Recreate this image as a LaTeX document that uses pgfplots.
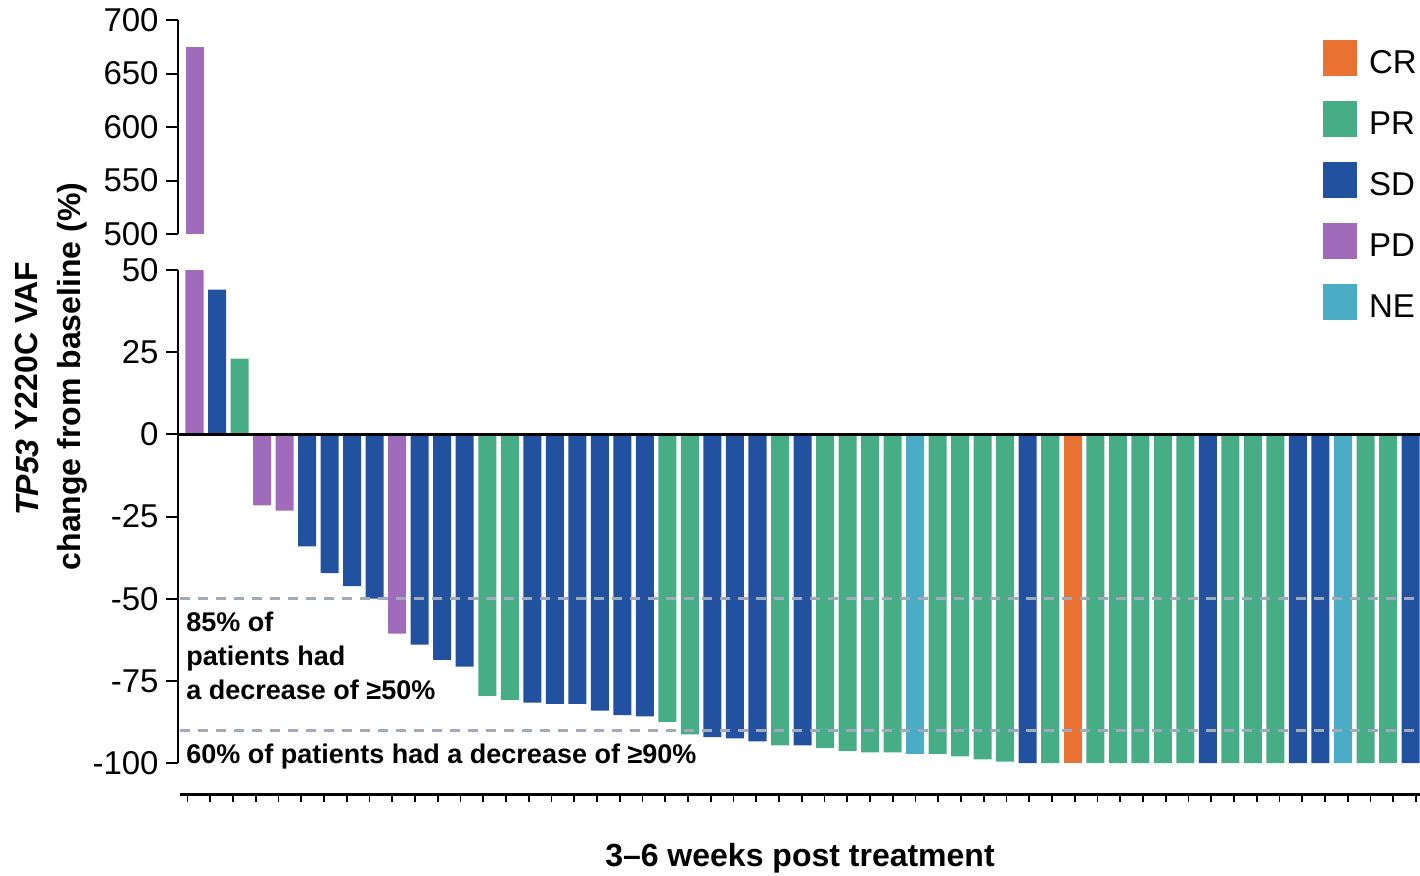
\documentclass[border=0pt]{standalone}
\usepackage{pgfplots}
\pgfplotsset{compat=1.18}
\usepackage{fontspec}
\setmainfont{Liberation Sans}
\definecolor{cCR}{HTML}{E97132}
\definecolor{cPR}{HTML}{47AD87}
\definecolor{cSD}{HTML}{2251A0}
\definecolor{cPD}{HTML}{A06BBA}
\definecolor{cNE}{HTML}{4BADC5}
\definecolor{cDash}{HTML}{A0AABA}
\pgfplotsset{
 brk/.style={scale only axis, width=621pt, xmin=-0.733, xmax=54.42,
  axis x line=none, axis y line*=left, tick align=outside,
  major tick length=6pt, tick style={line width=1pt, black},
  axis line style={line width=1.2pt}, clip mode=individual,
  yticklabel style={font=\fontsize{16.5}{19}\selectfont, inner sep=0pt, xshift=-3.5pt},
  /pgf/number format/assume math mode=true},
 bb/.style={ybar, bar width=0.8, bar shift=0pt, draw=none, fill=#1}
}
\begin{document}
\begin{tikzpicture}
\useasboundingbox (0,0) rectangle (710pt,437.5pt);
% ---------- upper segment ----------
\begin{axis}[brk, at={(89pt,320.5pt)}, anchor=south west, height=107pt,
  ymin=500, ymax=700, ytick={500,550,...,700}]
\addplot[bb=cPD] coordinates {(0,675)};
\end{axis}
% ---------- lower segment ----------
\begin{axis}[brk, at={(89pt,56pt)}, anchor=south west, height=246.5pt,
  ymin=-100, ymax=50, ytick={-100,-75,...,50},
  yticklabels={-100,-75,-50,-25,0,25,50},
  legend style={at={(axis description cs:0.9219,1.4665)}, anchor=north west,
    draw=none, fill=none, inner sep=0pt, outer sep=0pt, row sep=12.25pt,
    column sep=6pt, font=\fontsize{16.5}{19}\selectfont, nodes={inner sep=0pt}},
  legend cell align=left,
  legend image code/.code={\fill[#1] (0pt,-6.2pt) rectangle (17pt,11.8pt);}]
\addplot[bb=cCR] coordinates {(39,-100)};
\addlegendentry{CR}
\addplot[bb=cPR] coordinates {(2,23) (13,-79.6) (14,-80.8) (21,-87.5) (22,-91.3)
  (26,-94.6) (28,-95.5) (29,-96.3) (30,-96.8) (31,-96.8) (33,-97.2) (34,-98)
  (35,-98.9) (36,-99.6) (38,-100) (40,-100) (41,-100) (42,-100) (43,-100)
  (44,-100) (46,-100) (47,-100) (48,-100) (52,-100) (53,-100)};
\addlegendentry{PR}
\addplot[bb=cSD] coordinates {(1,44) (5,-34.1) (6,-42.2) (7,-46.2) (8,-50)
  (10,-64) (11,-68.6) (12,-70.7) (15,-81.6) (16,-82) (17,-82) (18,-84.1)
  (19,-85.4) (20,-85.8) (23,-92.1) (24,-92.5) (25,-93.4) (27,-94.6)
  (37,-100) (45,-100) (49,-100) (50,-100) (54,-100)};
\addlegendentry{SD}
\addplot[bb=cPD] coordinates {(0,675) (3,-21.6) (4,-23.2) (9,-60.6)};
\addlegendentry{PD}
\addplot[bb=cNE] coordinates {(32,-97.2) (51,-100)};
\addlegendentry{NE}
\draw[line width=1.2pt, black] (axis cs:-0.733,0) -- (axis cs:54.42,0);
\draw[line width=1.5pt, cDash, dash pattern=on 5pt off 4pt] (axis cs:-0.65,-50) -- (axis cs:54.42,-50);
\draw[line width=1.5pt, cDash, dash pattern=on 5pt off 4pt] (axis cs:-0.65,-90) -- (axis cs:54.42,-90);
\node[anchor=base west, inner sep=0pt, font=\bfseries\fontsize{13.5}{16}\selectfont] at (axis cs:-0.377,-60.06) {85\% of};
\node[anchor=base west, inner sep=0pt, font=\bfseries\fontsize{13.5}{16}\selectfont] at (axis cs:-0.377,-70.4) {patients had};
\node[anchor=base west, inner sep=0pt, font=\bfseries\fontsize{13.5}{16}\selectfont] at (axis cs:-0.377,-80.8) {a decrease of ≥50\%};
\node[anchor=base west, inner sep=0pt, font=\bfseries\fontsize{13.5}{16}\selectfont] at (axis cs:-0.377,-100) {60\% of patients had a decrease of ≥90\%};
\end{axis}
% ---------- bottom tick row ----------
\begin{axis}[at={(90pt,40.5pt)}, anchor=south west, scale only axis,
  width=620pt, height=1pt, xmin=-0.33, xmax=54.18, ymin=0, ymax=1,
  axis y line=none, axis x line*=bottom, xtick={0,1,...,54}, xticklabels={},
  tick align=outside, major tick length=4pt, tick style={line width=0.9pt, black},
  axis line style={line width=1.5pt},
  xlabel={3–6 weeks post treatment},
  xlabel style={at={(axis description cs:0.5,0)}, anchor=base, yshift=-36pt,
    inner sep=0pt, font=\bfseries\fontsize{16}{19}\selectfont}]
\addplot[draw=none] coordinates {(0,0) (54,0)};
\end{axis}
% ---------- y label ----------
\node[rotate=90, anchor=base, inner sep=0pt, font=\bfseries\fontsize{16}{19}\selectfont] at (19pt,243pt) {\textit{TP53} Y220C VAF};
\node[rotate=90, anchor=base, inner sep=0pt, font=\bfseries\fontsize{16}{19}\selectfont] at (40pt,249.25pt) {change from baseline (\%)};
\end{tikzpicture}
\end{document}
